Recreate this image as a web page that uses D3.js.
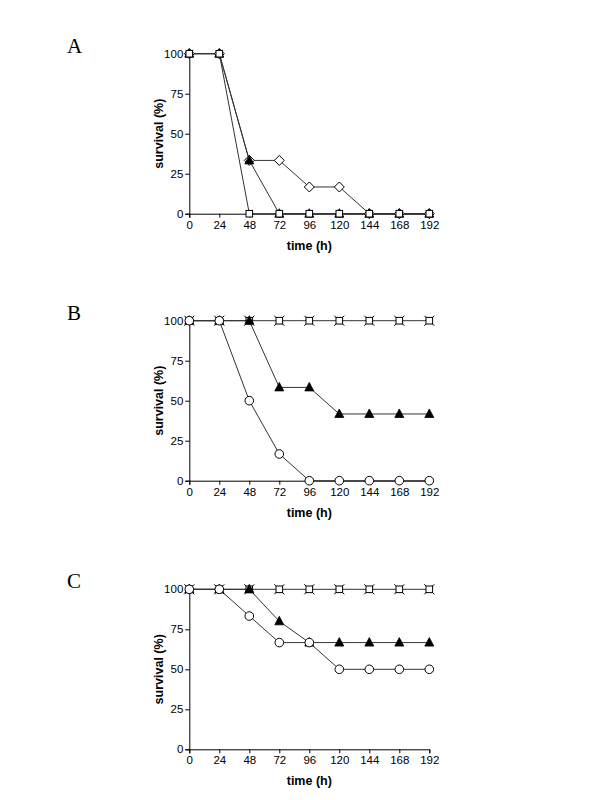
<!DOCTYPE html>
<html><head><meta charset="utf-8">
<script src="https://cdn.jsdelivr.net/npm/d3@7"></script>
<style>body{margin:0;background:#fff}</style>
</head><body>
<svg id="c" width="600" height="800"></svg>
<script>
const times = [0,24,48,72,96,120,144,168,192];
const yTicks = [0,25,50,75,100];
const panelLabels = ["A","B","C"];
// Panel A
const aSquare   = [100,100,0,0,0,0,0,0,0];
const aTriangle = [100,100,33.3,0,0,0,0,0,0];
const aDiamond  = [100,100,33.3,33.3,16.7,16.7,0,0,0];
// Panel B
const bControl  = [100,100,100,100,100,100,100,100,100];
const bTriangle = [100,100,100,58.3,58.3,41.7,41.7,41.7,41.7];
const bCircle   = [100,100,50,16.7,0,0,0,0,0];
// Panel C
const cControl  = [100,100,100,100,100,100,100,100,100];
const cTriangle = [100,100,100,80,66.7,66.7,66.7,66.7,66.7];
const cCircle   = [100,100,83.3,66.7,66.7,50,50,50,50];

const panels = [
  {label:"A", top:53.7, series:[
    {v:aDiamond, m:["diamond"]},
    {v:aTriangle, m:["triFill"]},
    {v:aSquare, m:["square"]}]},
  {label:"B", top:320.7, series:[
    {v:bControl, m:["cross","square"]},
    {v:bTriangle, m:["triFill"]},
    {v:bCircle, m:["circle"]}]},
  {label:"C", top:589.3, series:[
    {v:cControl, m:["cross","square"]},
    {v:cTriangle, m:["triFill"]},
    {v:cCircle, m:["circle"]}]}
];
const svg = d3.select("#c");
const x = d3.scaleLinear().domain([0,192]).range([189.3,429.3]);
const lineCol = "#333";
function marker(g, type, cx, cy){
  if(type==="circle"){
    g.append("circle").attr("cx",cx).attr("cy",cy).attr("r",4.3).attr("fill","#fff").attr("stroke","#000").attr("stroke-width",1);
  } else if(type==="square"){
    g.append("rect").attr("x",cx-3.3).attr("y",cy-3.3).attr("width",6.6).attr("height",6.6).attr("fill","#fff").attr("stroke","#000").attr("stroke-width",1);
  } else if(type==="cross"){
    g.append("path").attr("d",`M${cx-5},${cy-5}L${cx+5},${cy+5}M${cx-5},${cy+5}L${cx+5},${cy-5}`).attr("stroke","#000").attr("stroke-width",1);
  } else if(type==="diamond"){
    g.append("path").attr("d",`M${cx},${cy-5}L${cx+5},${cy}L${cx},${cy+5}L${cx-5},${cy}Z`).attr("fill","#fff").attr("stroke","#000").attr("stroke-width",1);
  } else if(type==="triFill"){
    g.append("path").attr("d",`M${cx},${cy-5}L${cx+4.5},${cy+3.5}L${cx-4.5},${cy+3.5}Z`).attr("fill","#000").attr("stroke","#000").attr("stroke-width",0.8);
  }
}
panels.forEach((p,i)=>{
  const y = d3.scaleLinear().domain([0,100]).range([p.top+160,p.top]);
  const g = svg.append("g");
  svg.append("text").attr("x",67).attr("y",p.top-1).attr("font-family","Liberation Serif, Times New Roman, serif")
    .attr("font-size",21).text(panelLabels[i]);
  const ya = g.append("g").attr("transform",`translate(${x(0)},0)`)
    .call(d3.axisLeft(y).tickValues(yTicks).tickSize(4).tickPadding(2).tickFormat(d3.format("d")));
  const xa = g.append("g").attr("transform",`translate(0,${y(0)})`)
    .call(d3.axisBottom(x).tickValues(times).tickSize(4).tickPadding(3).tickFormat(d3.format("d")));
  [ya,xa].forEach(a=>{
    a.select(".domain").attr("stroke","#000").attr("stroke-width",1);
    a.selectAll(".tick line").attr("stroke","#000");
    a.selectAll("text").attr("font-family","Liberation Sans, Arial, sans-serif").attr("font-size",11.5).attr("fill","#000");
  });
  g.append("text").attr("x",(x(0)+x(192))/2).attr("y",y(0)+36).attr("text-anchor","middle")
    .attr("font-family","Liberation Sans, Arial, sans-serif").attr("font-weight","bold").attr("font-size",12.5).text("time (h)");
  g.append("text").attr("transform",`translate(${x(0)-26},${(y(0)+y(100))/2}) rotate(-90)`).attr("text-anchor","middle")
    .attr("font-family","Liberation Sans, Arial, sans-serif").attr("font-weight","bold").attr("font-size",12.5).text("survival (%)");
  const line = d3.line().x((d,j)=>x(times[j])).y(d=>y(d));
  p.series.forEach(s=>{
    g.append("path").datum(s.v).attr("d",line).attr("fill","none").attr("stroke",lineCol).attr("stroke-width",1);
  });
  p.series.forEach(s=>{
    s.v.forEach((d,j)=>{ s.m.forEach(t=>marker(g,t,x(times[j]),y(d))); });
  });
});
</script>
</body></html>
